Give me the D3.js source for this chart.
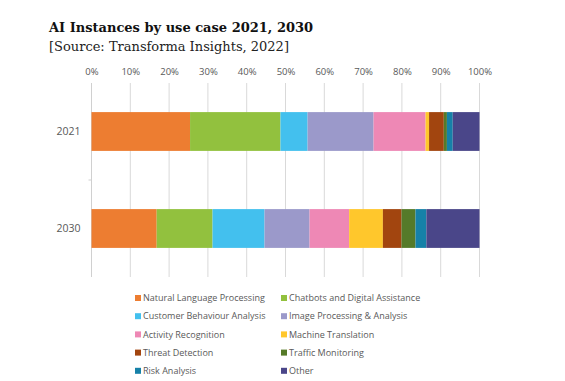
<!DOCTYPE html>
<html><head><meta charset="utf-8">
<script src="https://cdn.jsdelivr.net/npm/d3@7"></script>
<style>body{margin:0;background:#fff}svg{display:block}</style>
</head><body>
<svg id="c" width="565" height="381"></svg>
<script>
const years = ["2021", "2030"];
const categories = ["Natural Language Processing","Chatbots and Digital Assistance","Customer Behaviour Analysis","Image Processing & Analysis","Activity Recognition","Machine Translation","Threat Detection","Traffic Monitoring","Risk Analysis","Other"];
const values2021 = [25.4, 23.3, 7.0, 17.0, 13.4, 0.9, 3.8, 0.8, 1.5, 6.9];
const values2030 = [16.8, 14.4, 13.4, 11.6, 10.2, 8.7, 4.8, 3.6, 2.8, 13.7];
const colors = ["#ED7D31","#92C13E","#43C0EE","#9B99CA","#EE88B5","#FFC72C","#A2450F","#557A29","#1681A8","#4A4689"];
const tickValues = [0,10,20,30,40,50,60,70,80,90,100];

const svg = d3.select("#c");
const x = d3.scaleLinear().domain([0,100]).range([91.5, 479.5]);
const y = d3.scaleBand().domain(years).range([83, 277]).paddingInner(0.6).paddingOuter(0.3);

svg.append("text").attr("x",49).attr("y",32).attr("font-family","DejaVu Serif").attr("font-weight","bold").attr("font-size",13).attr("fill","#111").text("AI Instances by use case 2021, 2030");
svg.append("text").attr("x",49).attr("y",51).attr("font-family","DejaVu Serif").attr("font-size",13).attr("fill","#222").text("[Source: Transforma Insights, 2022]");

// gridlines
svg.append("g").selectAll("line").data(tickValues.slice(1)).join("line")
  .attr("x1",d=>x(d)).attr("x2",d=>x(d)).attr("y1",83).attr("y2",277)
  .attr("stroke","#d9d9d9").attr("stroke-width",1);
// y axis line
svg.append("line").attr("x1",x(0)).attr("x2",x(0)).attr("y1",83).attr("y2",277).attr("stroke","#d0d0d0");
svg.append("line").attr("x1",x(0)-3).attr("x2",x(0)).attr("y1",180).attr("y2",180).attr("stroke","#d0d0d0");

// top axis labels
const xa = svg.append("g").attr("transform","translate(0,75)")
  .call(d3.axisTop(x).tickValues(tickValues).tickFormat(d=>d+"%").tickSize(0).tickPadding(0));
xa.select(".domain").remove();
xa.selectAll("text").attr("font-family","Open Sans").attr("font-size",9.5).attr("fill","#595959");

// y labels
const ya = svg.append("g").attr("transform",`translate(${x(0)-11},0)`)
  .call(d3.axisLeft(y).tickSize(0).tickPadding(0));
ya.select(".domain").remove();
ya.selectAll("text").attr("font-family","Open Sans").attr("font-size",10.5).attr("fill","#595959");

// stacked bars
const rows = years.map((yr,i)=>{
  const vals = i===0?values2021:values2030;
  let acc=0;
  return vals.map((v,j)=>{const s={year:yr,x0:acc,x1:acc+v,c:j};acc+=v;return s;});
}).flat();
svg.append("g").selectAll("rect").data(rows).join("rect")
  .attr("x",d=>x(d.x0)).attr("width",d=>x(d.x1)-x(d.x0))
  .attr("y",d=>y(d.year)).attr("height",y.bandwidth())
  .attr("fill",d=>colors[d.c]);

// legend
const lg = svg.append("g");
categories.forEach((c,i)=>{
  const col=i%2, row=Math.floor(i/2);
  const lx = col===0?135:281, ly = 298+row*18.2;
  lg.append("rect").attr("x",lx).attr("y",ly-3).attr("width",6).attr("height",6).attr("fill",colors[i]);
  lg.append("text").attr("x",lx+8).attr("y",ly).attr("dy","0.35em").attr("font-family","Open Sans").attr("font-size",9).attr("fill","#595959").text(c);
});
</script>
</body></html>
